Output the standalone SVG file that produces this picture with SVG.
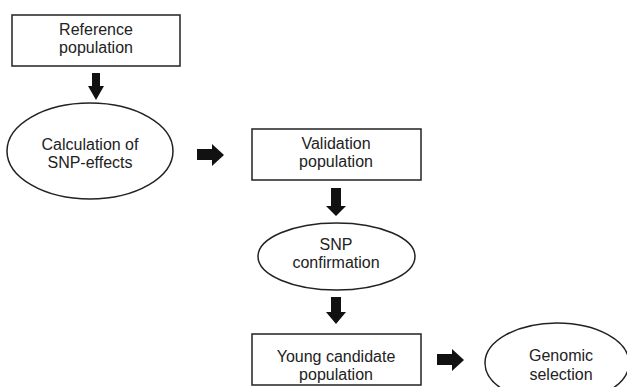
<svg xmlns="http://www.w3.org/2000/svg" width="627" height="387" viewBox="0 0 627 387">
<style>
.shape{fill:#fff;stroke:#222;stroke-width:1.5}
.lbl{font-family:"Liberation Sans",Arial,sans-serif;font-size:16px;fill:#222;text-anchor:middle}
.arrow{fill:#111;stroke:none}
</style>
<rect width="627" height="387" fill="#fff"/>
<g id="connectors">
<polygon class="arrow" points="92,73 100,73 100,86 104,86 96,100 88,86 92,86"/>
<polygon class="arrow" points="197,149 212,149 212,144 224,155 212,166 212,160 197,160"/>
<polygon class="arrow" points="331,188 341,188 341,206 346,206 336,216 326,206 331,206"/>
<polygon class="arrow" points="331,297 341,297 341,312 346,312 336,324 326,312 331,312"/>
<polygon class="arrow" points="437,354 452,354 452,349 464,360 452,371 452,365 437,365"/>
</g>
<g id="reference-population">
<rect class="shape" x="12" y="15" width="168" height="51"/>
<text class="lbl" x="96" y="35">Reference</text>
<text class="lbl" x="96" y="53">population</text>
</g>
<g id="calculation-snp-effects">
<ellipse class="shape" cx="90" cy="151" rx="83" ry="48"/>
<text class="lbl" x="90" y="150">Calculation of</text>
<text class="lbl" x="90" y="168">SNP-effects</text>
</g>
<g id="validation-population">
<rect class="shape" x="252" y="129" width="169" height="51"/>
<text class="lbl" x="336" y="149">Validation</text>
<text class="lbl" x="336" y="167">population</text>
</g>
<g id="snp-confirmation">
<ellipse class="shape" cx="336.5" cy="256.5" rx="78.5" ry="33.5"/>
<text class="lbl" x="336" y="250">SNP</text>
<text class="lbl" x="336" y="268">confirmation</text>
</g>
<g id="young-candidate-population">
<rect class="shape" x="252" y="334" width="169" height="51"/>
<text class="lbl" x="336" y="362">Young candidate</text>
<text class="lbl" x="336" y="380">population</text>
</g>
<g id="genomic-selection">
<ellipse class="shape" cx="557" cy="363" rx="72" ry="40"/>
<text class="lbl" x="561" y="361">Genomic</text>
<text class="lbl" x="561" y="380">selection</text>
</g>
</svg>
